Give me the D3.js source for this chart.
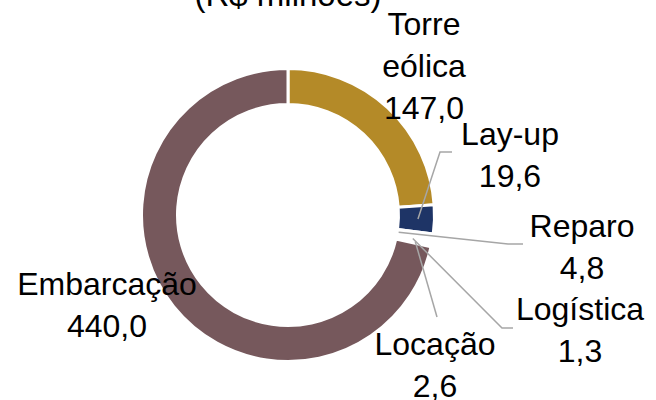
<!DOCTYPE html>
<html>
<head>
<meta charset="utf-8">
<script src="https://cdn.jsdelivr.net/npm/d3@7"></script>
<style>
	html, body { margin: 0; padding: 0; background: #fff; overflow: hidden; }
	text { font-family: "Liberation Sans", Arial, sans-serif; fill: #000; }
</style>
</head>
<body>
<svg id="chart" width="656" height="400"></svg>
<script>
// dados (R$ milhões), ordem horária a partir do topo
var categories = ["Torre eólica", "Lay-up", "Reparo", "Logística", "Locação", "Embarcação"];
var values = [147.0, 19.6, 4.8, 1.3, 2.6, 440.0];
var labelLines = [["Torre", "eólica"], ["Lay-up"], ["Reparo"], ["Logística"], ["Locação"], ["Embarcação"]];

// estilos
var colors = ["#b48a28", "#1e3466", "#ffffff", "#ffffff", "#ffffff", "#76585c"];

// posição dos rótulos: x central, primeira linha de base
var labelPos = [[424, 35], [510, 145], [582, 237], [580, 320], [435, 355], [107, 295]];
// raio de partida e cotovelos das linhas de chamada (null = sem linha)
var leaderStartR = [null, 130, 112, 127, 130, null];
var leaderBends = [
	null,
	[[440, 152], [452, 152]],
	[[508, 244], [523, 244]],
	[[502, 328], [513, 328]],
	[[437, 317]],
	null
];

var width = 656,
	height = 400,
	cx = 288,
	cy = 215,
	outerR = 146.5,
	innerR = 110.5,
	lineH = 42,
	fontSize = 32;

var fmt = d3.formatLocale({decimal: ",", thousands: "."}).format(".1f");

var svg = d3.select("#chart");

svg.append("text")
	.attr("x", 288)
	.attr("y", 6)
	.attr("text-anchor", "middle")
	.style("font-size", "33px")
	.text("(R$ milhões)");

var pie = d3.pie()
	.sort(null)
	.value(function(d) { return d; });

var arcs = pie(values);

var arc = d3.arc()
	.innerRadius(innerR)
	.outerRadius(outerR);

var chart = svg.append("g")
	.attr("transform", "translate(" + cx + "," + cy + ")");

chart.selectAll("path.slice")
	.data(arcs)
	.enter().append("path")
	.attr("class", "slice")
	.attr("d", arc)
	.attr("fill", function(d, i) { return colors[i]; })
	.attr("stroke", "#fff")
	.attr("stroke-width", 3);

// linhas de chamada
var line = d3.line();

arcs.forEach(function(d, i) {

	if (!leaderBends[i]) {
		return;
	}

	var mid = (d.startAngle + d.endAngle) / 2,
		r = leaderStartR[i],
		start = [cx + r * Math.sin(mid), cy - r * Math.cos(mid)];

	svg.append("path")
		.attr("d", line([start].concat(leaderBends[i])))
		.attr("fill", "none")
		.attr("stroke", "#a6a6a6")
		.attr("stroke-width", 1.5);
});

// rótulos
arcs.forEach(function(d, i) {

	var lines = labelLines[i].concat([fmt(values[i])]),
		t = svg.append("text")
			.attr("text-anchor", "middle")
			.style("font-size", fontSize + "px");

	lines.forEach(function(s, j) {
		t.append("tspan")
			.attr("x", labelPos[i][0])
			.attr("y", labelPos[i][1] + j * lineH)
			.text(s);
	});
});
</script>
</body>
</html>
